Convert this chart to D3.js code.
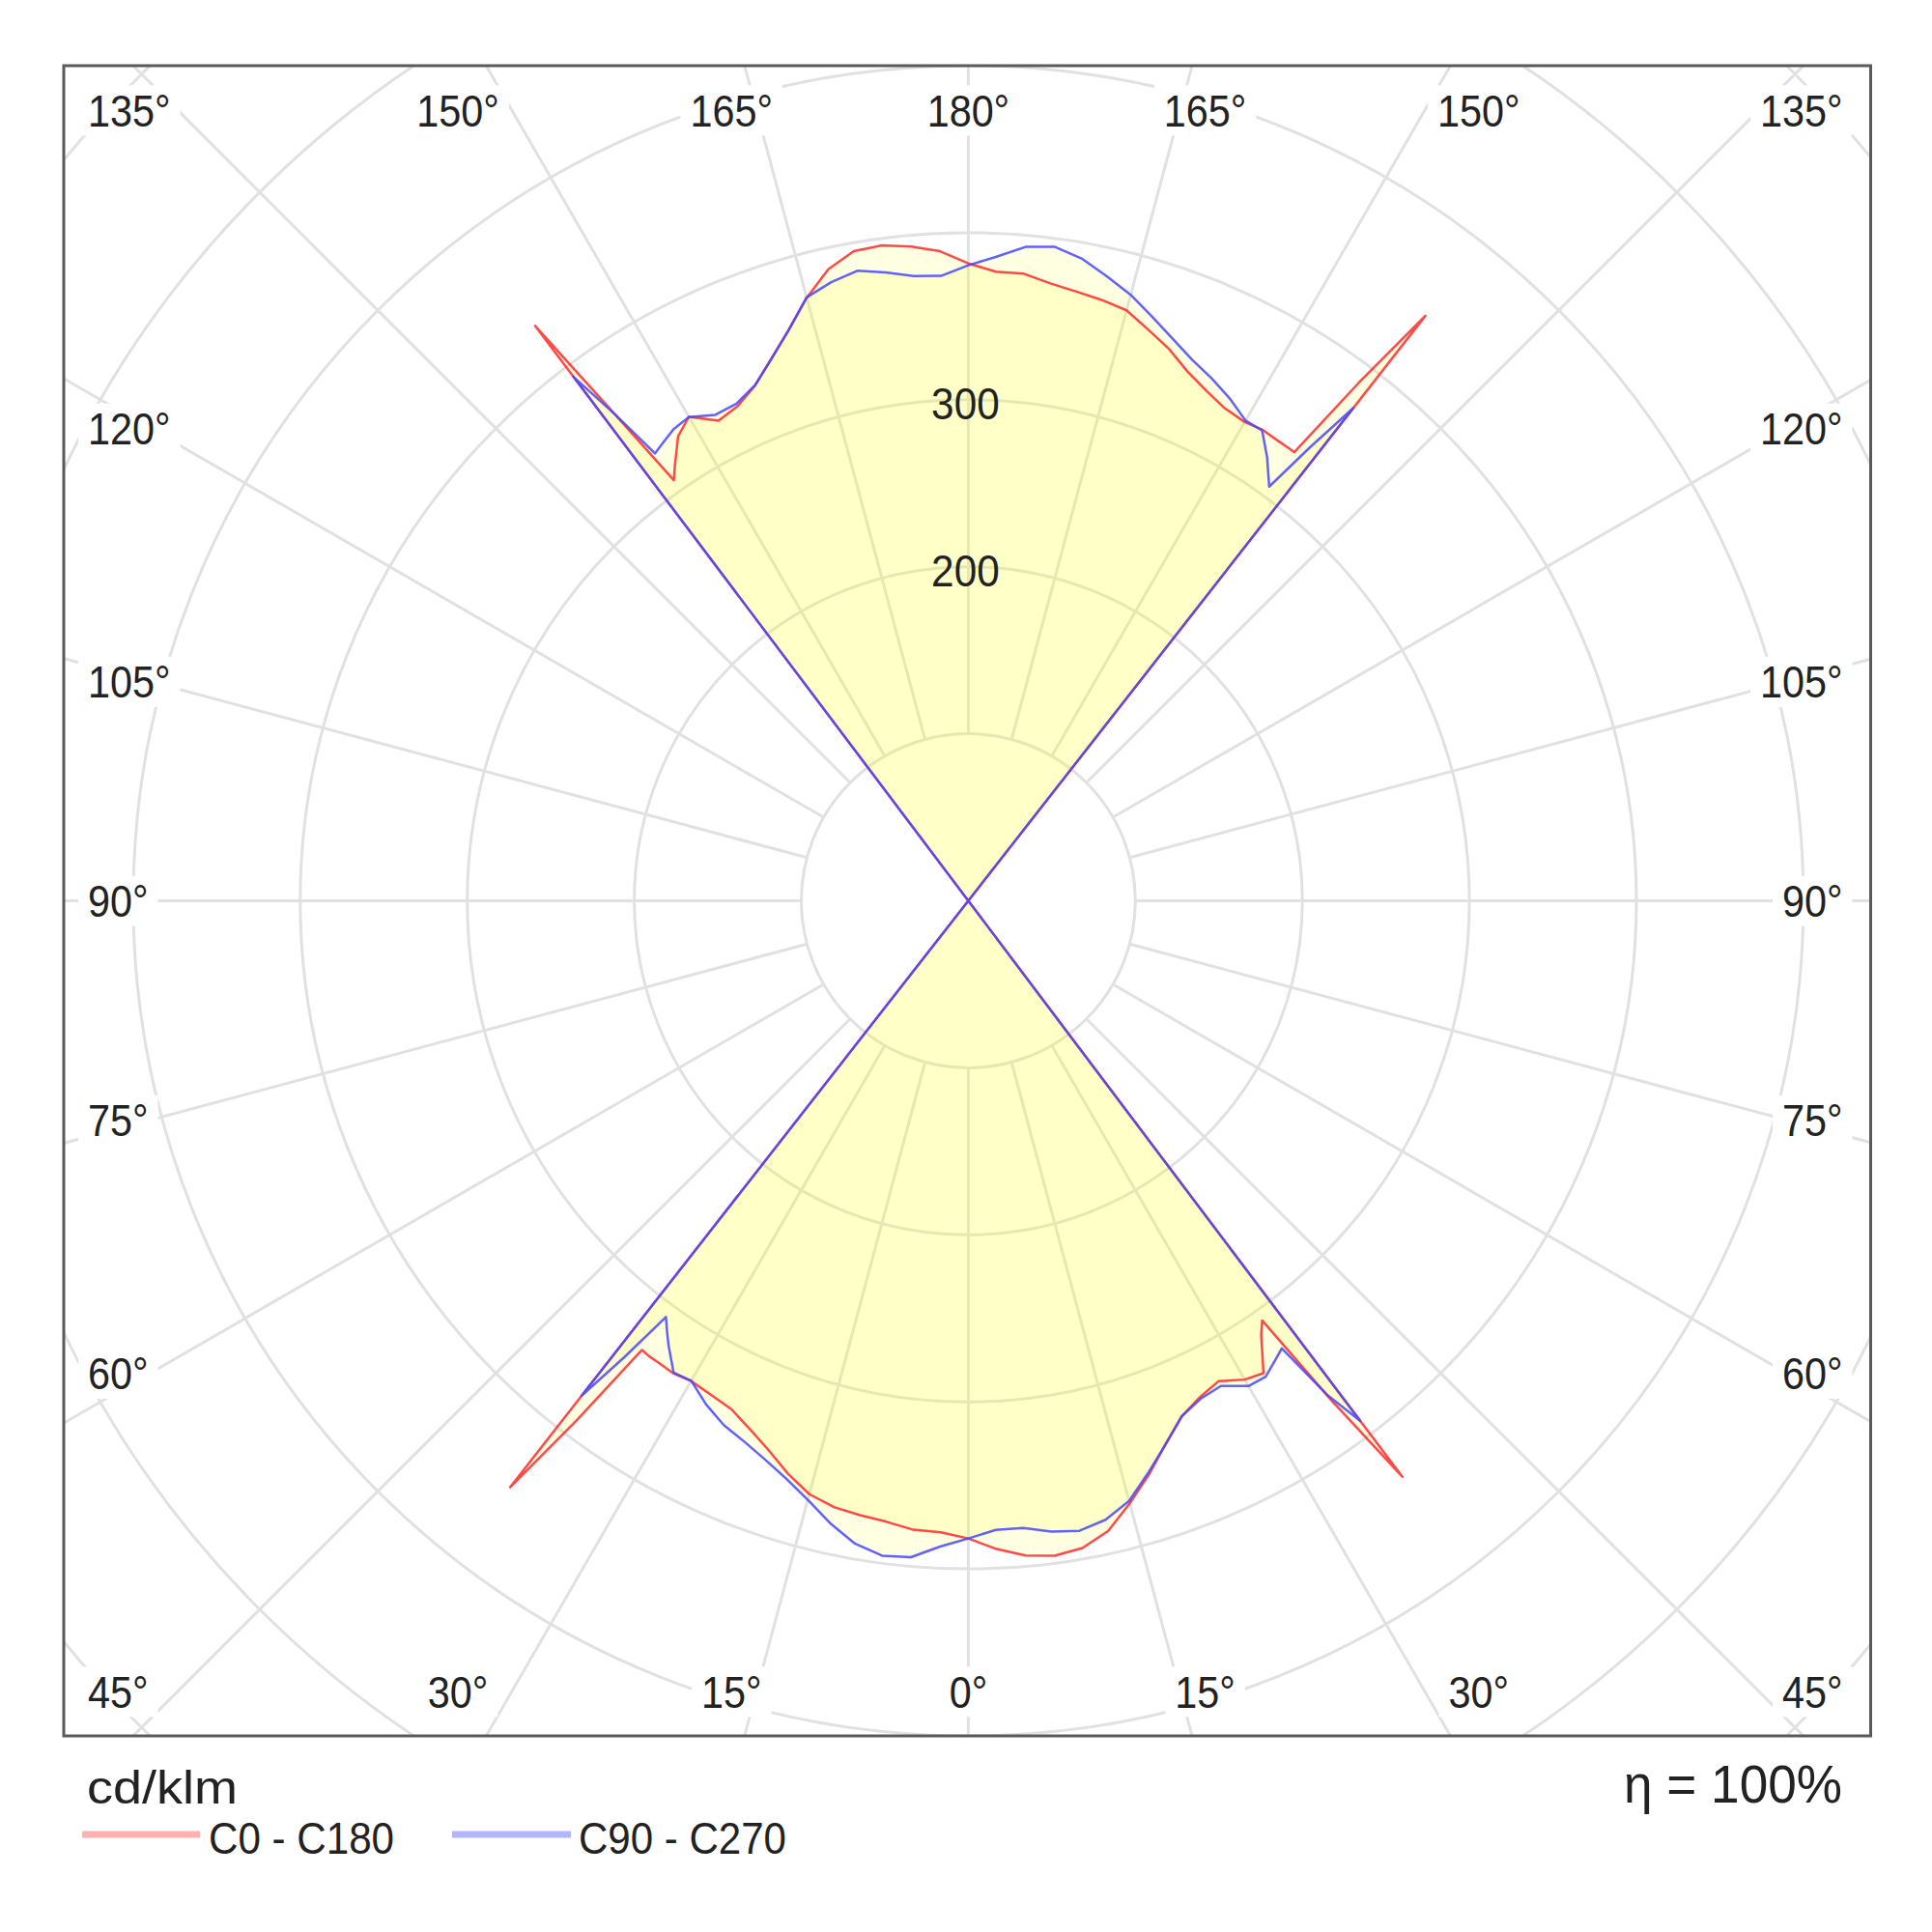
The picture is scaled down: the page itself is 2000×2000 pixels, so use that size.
<!DOCTYPE html>
<html><head><meta charset="utf-8">
<script src="https://cdn.jsdelivr.net/npm/d3@7"></script>
<style>
body{margin:0;background:#fff}
svg{display:block}
text{font-family:"Liberation Sans", Arial, sans-serif; fill:#222}
</style>
</head><body>
<svg id="chart" width="2000" height="2000"></svg>
<script>
// ---- DATA (cd/klm) ----
// gamma offsets: lower lobe gamma = step, upper lobe gamma = 180 - step
const gammaSteps = [0,2.5,5,7.5,10,12.5,15,17.5,20,22.5,25,27.5,30,32,34,35,36,37,38,39];
// lower hemisphere (downlight)
const c0Down   = [381.8,388.5,393.5,395.5,393.5,386.5,373.5,360,345.8,334,328,324.3,331,333.5,313.6,306.7,369,431.8,0,0];
const c180Down = [381.8,378.5,378,375,373.5,371.8,367.8,359.5,349.9,342.2,335.8,333.5,332,333.5,333,333,332.4,389,445.6,0];
const c90Down  = [381.8,377,377,381,383,379.6,372,358.8,346,334,329,327.5,335.5,336,330,327.2,365.6,390,0,0];
const c270Down = [381.8,387,394.5,395.5,390.8,381.8,371.3,362.7,356,350.5,346.4,340,331.8,333,321,314.5,308,342,376,0];
// upper hemisphere (uplight)
const c0Up   = [381.6,377,377,373,370.5,368.5,366,358.5,351.5,343,337,332.5,331,332.5,332,332,332,388,444.5,0];
const c180Up = [381.6,389.3,393.2,395.8,394.9,387.3,373.8,358.2,345.2,333.8,326.8,324,334.6,327.9,314.2,307.4,360,431,0,0];
const c90Up  = [380.5,386,393,395,390.5,383,375.6,366.5,358,350.5,345,339,332,332,320,313,306.5,340,374.5,0];
const c270Up = [380.5,374.5,375.5,379.5,383,379.4,374,358,345,334,328.4,328,334.5,333,329,327,360,393,0,0];

const ringValues = [100,200,300,400,500,600,700];
const ringLabelValues = [200,300];
const spokeAngles = [0,15,30,45,60,75,90,105,120,135,150,165,180];
const seriesNames = ["C0 - C180","C90 - C270"];
const unitLabel = "cd/klm";
const efficiencyLabel = "η = 100%";

// ---- LAYOUT ----
const svg = d3.select("#chart");
const cx = 1002.4, cy = 932.5;
const r = d3.scaleLinear().domain([0,500]).range([0,864.5]);
const frame = {x0: 66, x1: 1936.5, y0: cy - r(500), y1: cy + r(500)};
const rad = d => d*Math.PI/180;
const gridColor = "#e1e1e1";

svg.append("rect").attr("width",2000).attr("height",2000).attr("fill","#fff");

svg.append("clipPath").attr("id","fclip").append("rect")
  .attr("x",frame.x0).attr("y",frame.y0)
  .attr("width",frame.x1-frame.x0).attr("height",frame.y1-frame.y0);

const grid = svg.append("g").attr("clip-path","url(#fclip)");
// rings
grid.selectAll("circle.ring").data(ringValues).join("circle")
  .attr("class","ring").attr("cx",cx).attr("cy",cy).attr("r",d=>r(d))
  .attr("fill","none").attr("stroke",gridColor).attr("stroke-width",3);
// spokes
const spokes = [];
spokeAngles.forEach(a=>{
  [1,-1].forEach(s=>{
    if(s===-1 && (a===0||a===180)) return;
    spokes.push({a, s});
  });
});
grid.selectAll("line.spoke").data(spokes).join("line")
  .attr("class","spoke")
  .attr("x1",d=>cx + d.s*Math.sin(rad(d.a))*r(100))
  .attr("y1",d=>cy + Math.cos(rad(d.a))*r(100))
  .attr("x2",d=>cx + d.s*Math.sin(rad(d.a))*r(1000))
  .attr("y2",d=>cy + Math.cos(rad(d.a))*r(1000))
  .attr("stroke",gridColor).attr("stroke-width",3);

// ---- CURVES ----
const toRight = (down, up) => [
  ...gammaSteps.map((g,i)=>[Math.PI - rad(g), r(down[i])]),
  ...gammaSteps.map((g,i)=>[Math.PI - rad(180-g), r(up[i])]).reverse()
];
const toLeft = (down, up) => [
  ...gammaSteps.map((g,i)=>[Math.PI + rad(180-g), r(up[i])]),
  ...gammaSteps.map((g,i)=>[Math.PI + rad(g), r(down[i])]).reverse()
];
const series = [
  {name: seriesNames[0], pts: toRight(c0Down,c0Up).concat(toLeft(c180Down,c180Up)), color:"#ff2a2a"},
  {name: seriesNames[1], pts: toRight(c90Down,c90Up).concat(toLeft(c270Down,c270Up)), color:"#4646ff"}
];
const radial = d3.lineRadial().angle(d=>d[0]).radius(d=>d[1]).curve(d3.curveLinearClosed);
const plot = svg.append("g").attr("transform",`translate(${cx},${cy})`);
plot.selectAll("path.fill").data(series).join("path")
  .attr("class","fill").attr("d",d=>radial(d.pts))
  .attr("fill","#ffff20").attr("fill-opacity",0.13).attr("stroke","none");
plot.selectAll("path.line").data(series).join("path")
  .attr("class","line").attr("d",d=>radial(d.pts))
  .attr("fill","none").attr("stroke",d=>d.color).attr("stroke-width",2.5)
  .attr("stroke-opacity",0.85).attr("stroke-linejoin","round");

// ring value labels
svg.selectAll("text.rlab").data(ringLabelValues).join("text")
  .attr("class","rlab")
  .attr("transform",d=>`translate(${cx-3},${cy - r(d) + 20.5}) scale(0.9,1)`)
  .attr("text-anchor","middle").attr("font-size",47).text(d=>d);

// ---- ANGLE LABELS ----
const rowDy = 818.5, topHalf = 915, sideHalf = 847;
const labels = spokes.map(({a,s})=>{
  let x,y,anchor;
  if(a<=30){ y = cy + rowDy; x = cx + s*topHalf*Math.tan(rad(a)); anchor="middle"; }
  else if(a>=150){ y = cy - rowDy; x = cx + s*topHalf*Math.tan(rad(180-a)); anchor="middle"; }
  else {
    anchor = s>0 ? "end" : "start";
    x = s>0 ? frame.x1 - 29 : frame.x0 + 25;
    if(a===45) y = cy + rowDy;
    else if(a===135) y = cy - rowDy;
    else y = cy + sideHalf*Math.tan(rad(90-a));
  }
  return {text: a+"°", x, y, anchor};
});
const lg = svg.append("g").attr("clip-path","url(#fclip)");
labels.forEach(L=>{
  const g = lg.append("g").attr("transform",`translate(${L.x},${L.y+16.8}) scale(0.88,1)`);
  const rect = g.append("rect").attr("fill","#fff");
  const t = g.append("text").attr("text-anchor",L.anchor).attr("font-size",47).text(L.text);
  const bb = t.node().getBBox();
  const px = 10/0.88;
  rect.attr("x",bb.x-px).attr("y",bb.y).attr("width",bb.width+2*px).attr("height",bb.height);
});

// frame
svg.append("rect").attr("x",frame.x0).attr("y",frame.y0)
  .attr("width",frame.x1-frame.x0).attr("height",frame.y1-frame.y0)
  .attr("fill","none").attr("stroke","#5a5a5a").attr("stroke-width",3);

// ---- FOOTER / LEGEND ----
svg.append("text").attr("x",90).attr("y",1867).attr("font-size",48)
  .attr("textLength",156).attr("lengthAdjust","spacingAndGlyphs").text(unitLabel);
svg.append("text").attr("x",1907).attr("y",1866).attr("font-size",55)
  .attr("text-anchor","end").attr("textLength",226).attr("lengthAdjust","spacingAndGlyphs")
  .text(efficiencyLabel);

const legend = [
  {name: seriesNames[0], color:"#ffb0b0", lx0:85, lx1:207, tx:216, tl:192},
  {name: seriesNames[1], color:"#b4b4ff", lx0:468, lx1:591, tx:599, tl:215}
];
legend.forEach(L=>{
  svg.append("line").attr("x1",L.lx0).attr("x2",L.lx1).attr("y1",1899).attr("y2",1899)
    .attr("stroke",L.color).attr("stroke-width",7);
  svg.append("text").attr("x",L.tx).attr("y",1919).attr("font-size",46.5)
    .attr("textLength",L.tl).attr("lengthAdjust","spacingAndGlyphs").text(L.name);
});
</script>
</body></html>
